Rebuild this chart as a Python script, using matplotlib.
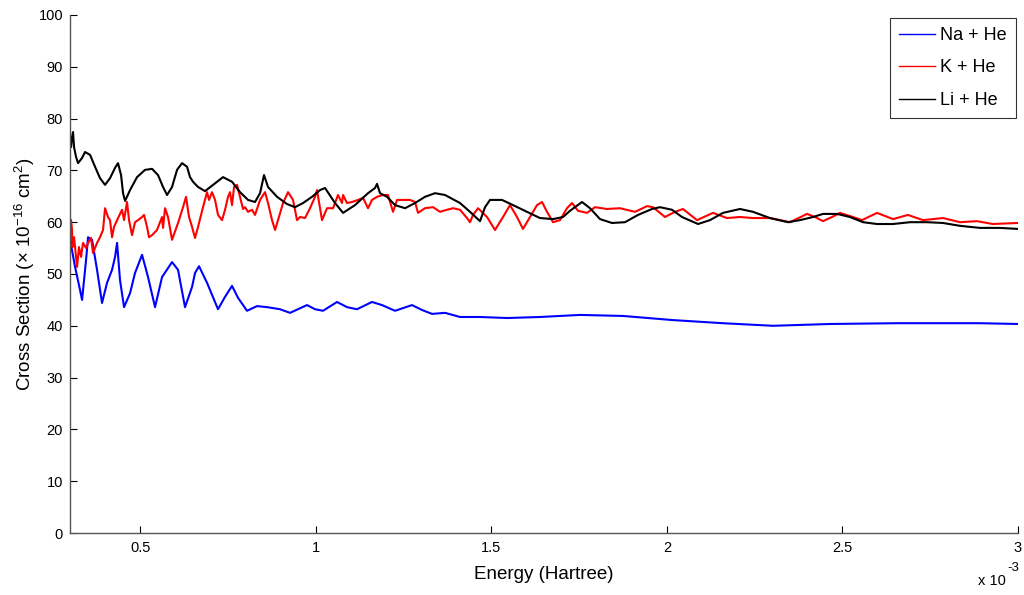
import matplotlib
matplotlib.use("Agg")
import matplotlib.pyplot as plt

plt.rcParams['font.family'] = ['Liberation Sans', 'DejaVu Sans']
plt.rcParams['mathtext.default'] = 'regular'

# Energy in units of 1e-3 Hartree, cross section in 1e-16 cm^2
na_E = [0.3000, 0.3028, 0.3142, 0.3285, 0.3342, 0.3456, 0.3513, 0.3627, 0.3769, 0.3911,
        0.4054, 0.4196, 0.4282, 0.4339, 0.4424, 0.4538, 0.4709, 0.4851, 0.5051, 0.5222,
        0.5421, 0.5620, 0.5905, 0.6076, 0.6275, 0.6475, 0.6560, 0.6674, 0.6902, 0.7215,
        0.7415, 0.7614, 0.7785, 0.8041, 0.8326, 0.8611, 0.8981, 0.9266, 0.9750, 0.9978,
        1.0206, 1.0605, 1.0889, 1.1174, 1.1601, 1.1886, 1.2257, 1.2741, 1.3026, 1.3310,
        1.3681, 1.4108, 1.4678, 1.5447, 1.6386, 1.7526, 1.8750, 2.0174, 2.1598, 2.3023,
        2.4646, 2.6555, 2.8918, 3.0000]
na_s = [59.5, 55.6, 51.4, 46.9, 45.0, 52.7, 57.1, 56.6, 50.8, 44.4,
        48.3, 50.8, 53.3, 56.0, 48.8, 43.6, 46.3, 50.2, 53.7, 49.4,
        43.6, 49.4, 52.3, 50.8, 43.6, 47.5, 50.2, 51.5, 48.3, 43.2,
        45.6, 47.7, 45.4, 42.9, 43.8, 43.6, 43.2, 42.5, 44.0, 43.2,
        42.9, 44.6, 43.6, 43.2, 44.6, 44.0, 42.9, 44.0, 43.05, 42.3,
        42.5, 41.7, 41.7, 41.5, 41.7, 42.1, 41.9, 41.1, 40.5, 40.0,
        40.35, 40.5, 40.5, 40.35]

k_E = [0.3000, 0.3028, 0.3057, 0.3070, 0.3114, 0.3199, 0.3256, 0.3313, 0.3370, 0.3456,
       0.3513, 0.3598, 0.3655, 0.3769, 0.3854, 0.3940, 0.3997, 0.4082, 0.4139, 0.4196,
       0.4253, 0.4367, 0.4481, 0.4538, 0.4623, 0.4680, 0.4766, 0.4851, 0.4937, 0.5051,
       0.5108, 0.5193, 0.5250, 0.5336, 0.5478, 0.5620, 0.5649, 0.5706, 0.5791, 0.5905,
       0.6076, 0.6218, 0.6304, 0.6389, 0.6475, 0.6560, 0.6646, 0.6788, 0.6902, 0.6959,
       0.7044, 0.7130, 0.7215, 0.7329, 0.7415, 0.7500, 0.7557, 0.7614, 0.7671, 0.7756,
       0.7842, 0.7927, 0.7984, 0.8070, 0.8184, 0.8269, 0.8412, 0.8554, 0.8639, 0.8753,
       0.8839, 0.8924, 0.9067, 0.9209, 0.9351, 0.9465, 0.9551, 0.9693, 0.9836, 0.9978,
       1.0035, 1.0177, 1.0320, 1.0491, 1.0633, 1.0747, 1.0776, 1.0889, 1.1032, 1.1203,
       1.1345, 1.1487, 1.1601, 1.1744, 1.1915, 1.2057, 1.2200, 1.2314, 1.2484, 1.2684,
       1.2826, 1.2912, 1.3111, 1.3339, 1.3538, 1.3738, 1.3909, 1.4108, 1.4307, 1.4393,
       1.4478, 1.4621, 1.4877, 1.5105, 1.5333, 1.5532, 1.5731, 1.5902, 1.6101, 1.6301,
       1.6443, 1.6586, 1.6757, 1.6956, 1.7155, 1.7298, 1.7469, 1.7725, 1.7953, 1.8295,
       1.8665, 1.9092, 1.9434, 1.9605, 1.9946, 2.0231, 2.0459, 2.0858, 2.1314, 2.1712,
       2.2083, 2.2453, 2.2937, 2.3507, 2.3992, 2.4219, 2.4447, 2.4703, 2.4931, 2.5301,
       2.5558, 2.5985, 2.6441, 2.6868, 2.7295, 2.7865, 2.8348, 2.8833, 2.9288, 3.0000]
k_s = [60.6, 60.4, 58.5, 55.2, 57.1, 51.35, 55.2, 53.3, 56.0, 55.0,
       56.0, 56.95, 54.05, 56.0, 57.1, 58.5, 62.7, 61.0, 60.4, 57.1,
       59.1, 60.8, 62.4, 60.4, 63.9, 60.4, 57.5, 60.0, 60.4, 61.0,
       61.4, 59.1, 57.1, 57.5, 58.5, 61.0, 58.9, 62.7, 61.0, 56.6,
       59.85, 62.9, 64.9, 61.0, 59.1, 56.95, 59.1, 62.9, 65.8, 64.3,
       65.8, 64.3, 61.4, 60.4, 62.4, 64.9, 65.8, 63.3, 66.8, 67.2,
       64.9, 62.55, 62.9, 62.0, 62.4, 61.4, 64.3, 65.8, 63.7, 60.4,
       58.5, 60.4, 63.7, 65.8, 64.3, 60.4, 61.0, 60.8, 62.7, 64.9,
       66.2, 60.4, 62.7, 62.7, 65.25, 63.7, 65.25, 63.7, 63.9, 64.3,
       64.7, 62.7, 64.3, 64.9, 65.25, 65.25, 62.0, 64.3, 64.3, 64.3,
       63.9, 61.8, 62.7, 62.9, 62.0, 62.4, 62.7, 62.4, 60.8, 60.0,
       61.4, 62.7, 61.0, 58.5, 61.0, 63.3, 61.0, 58.7, 61.0, 63.3,
       63.9, 62.0, 60.0, 60.4, 62.7, 63.7, 62.2, 61.8, 62.9, 62.55,
       62.7, 62.0, 63.1, 62.9, 61.0, 62.0, 62.55, 60.4, 61.8, 60.8,
       61.0, 60.8, 60.8, 60.0, 61.6, 61.0, 60.2, 61.0, 61.8, 61.0,
       60.4, 61.8, 60.6, 61.4, 60.4, 60.8, 60.0, 60.2, 59.65, 59.85]

li_E = [0.3000, 0.3028, 0.3057, 0.3085, 0.3114, 0.3171, 0.3228, 0.3342, 0.3427, 0.3570,
        0.3712, 0.3854, 0.3997, 0.4139, 0.4282, 0.4367, 0.4453, 0.4510, 0.4567, 0.4709,
        0.4908, 0.5136, 0.5336, 0.5506, 0.5649, 0.5763, 0.5905, 0.6048, 0.6190, 0.6332,
        0.6418, 0.6503, 0.6646, 0.6845, 0.7073, 0.7358, 0.7614, 0.7842, 0.8070, 0.8269,
        0.8412, 0.8525, 0.8639, 0.8896, 0.9181, 0.9408, 0.9636, 0.9893, 1.0120, 1.0263,
        1.0548, 1.0776, 1.1117, 1.1487, 1.1687, 1.1744, 1.1829, 1.2029, 1.2257, 1.2541,
        1.2826, 1.3111, 1.3396, 1.3681, 1.4108, 1.4393, 1.4678, 1.4820, 1.4962, 1.5304,
        1.5617, 1.6016, 1.6386, 1.6757, 1.7042, 1.7241, 1.7583, 1.7810, 1.8095, 1.8437,
        1.8807, 1.9177, 1.9576, 1.9804, 2.0146, 2.0431, 2.0887, 2.1228, 2.1598, 2.2083,
        2.2453, 2.2937, 2.3450, 2.3792, 2.4162, 2.4447, 2.4846, 2.5216, 2.5586, 2.5985,
        2.6441, 2.6925, 2.7409, 2.7865, 2.8348, 2.8918, 2.9488, 3.0000]
li_s = [75.0, 74.5, 76.45, 77.4, 74.5, 72.6, 71.4, 72.4, 73.55, 73.0,
        70.7, 68.5, 67.2, 68.5, 70.5, 71.4, 69.1, 65.6, 64.1, 66.2,
        68.7, 70.1, 70.3, 69.1, 66.8, 65.25, 66.8, 70.1, 71.4, 70.7,
        68.7, 67.8, 66.8, 66.0, 67.2, 68.7, 67.8, 65.8, 64.3, 63.9,
        65.6, 69.1, 66.8, 64.9, 63.5, 62.9, 63.7, 64.9, 66.2, 66.6,
        63.7, 61.8, 63.3, 65.6, 66.6, 67.4, 65.6, 64.9, 63.3, 62.7,
        63.7, 64.9, 65.6, 65.25, 63.7, 62.0, 60.2, 62.9, 64.3, 64.3,
        63.3, 62.0, 60.8, 60.6, 61.0, 62.2, 63.9, 62.7, 60.6, 59.85,
        60.0, 61.4, 62.55, 62.9, 62.4, 61.0, 59.65, 60.4, 61.8, 62.55,
        62.0, 60.8, 60.0, 60.4, 61.0, 61.6, 61.6, 61.0, 60.0, 59.65,
        59.65, 60.0, 60.0, 59.85, 59.3, 58.9, 58.9, 58.7]

series_labels = ['Na + He', 'K + He', 'Li + He']
x_ticks = [0.5, 1, 1.5, 2, 2.5, 3]
x_tick_labels = ['0.5', '1', '1.5', '2', '2.5', '3']
y_ticks = list(range(0, 101, 10))

fig = plt.figure(figsize=(10.24, 5.95), dpi=100)
ax = fig.add_axes([0.0684, 0.1042, 0.9257, 0.8706])

ax.plot(na_E, na_s, color='#0000ff', lw=1.5, label=series_labels[0], solid_joinstyle='round')
ax.plot(k_E, k_s, color='#ff0000', lw=1.5, label=series_labels[1], solid_joinstyle='round')
ax.plot(li_E, li_s, color='#000000', lw=1.5, label=series_labels[2], solid_joinstyle='round')

ax.set_xlim(0.3, 3.0)
ax.set_ylim(0, 100)
ax.set_xticks(x_ticks)
ax.set_xticklabels(x_tick_labels)
ax.set_yticks(y_ticks)
ax.tick_params(direction='in', length=5, width=0.8, labelsize=10.5, colors='#000000', pad=6)
ax.tick_params(axis='y', pad=5)
for s in ['top', 'right']:
    ax.spines[s].set_visible(False)
for s in ['left', 'bottom']:
    ax.spines[s].set_color('#555555')
    ax.spines[s].set_linewidth(1.0)

ax.set_xlabel('Energy (Hartree)', fontsize=13.5, labelpad=8)
ax.set_ylabel('Cross Section ($\\times$ 10$^{-16}$ cm$^{2}$)', fontsize=13.5, labelpad=1)

fig.text(0.955, 0.012, 'x 10', fontsize=10.5, ha='left', va='bottom')
fig.text(0.984, 0.036, '-3', fontsize=9.5, ha='left', va='bottom')

leg = ax.legend(loc='upper right', bbox_to_anchor=(0.9975, 0.994), fontsize=13,
                frameon=True, fancybox=False, edgecolor='#000000',
                borderaxespad=0.0, handlelength=2.0, handletextpad=0.25,
                labelspacing=0.85, borderpad=0.5)
leg.get_frame().set_linewidth(0.8)
for line in leg.get_lines():
    line.set_linewidth(1.0)

fig.savefig('out.png', dpi=100)
